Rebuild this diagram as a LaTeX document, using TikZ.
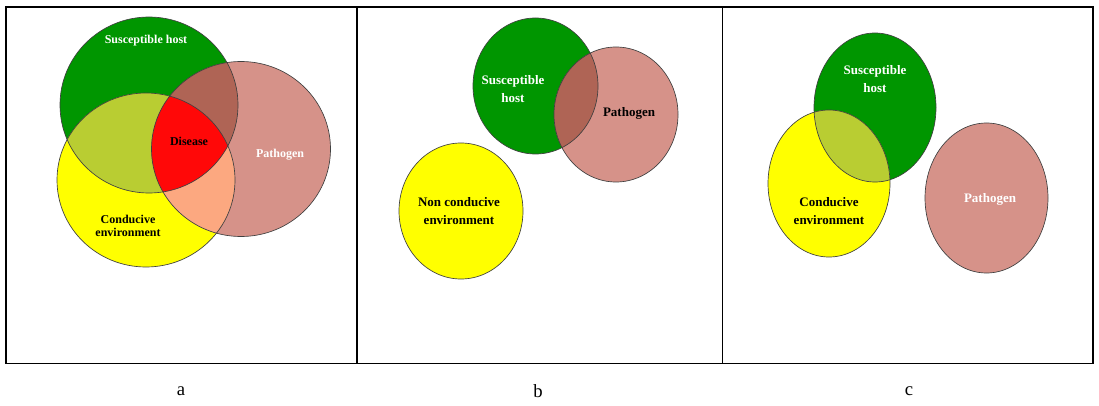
\documentclass[tikz,border=0pt]{standalone}
\usepackage{fontspec}
\setmainfont{Liberation Serif}
\usepackage{xcolor}
\usepackage{tikz}
\usetikzlibrary{positioning}

\definecolor{hostgreen}{RGB}{0,150,0}
\definecolor{pathrose}{RGB}{214,146,137}
\definecolor{envyellow}{RGB}{255,255,0}
\definecolor{hostenv}{RGB}{185,205,50}
\definecolor{hostpath}{RGB}{175,100,85}
\definecolor{envpath}{RGB}{252,168,128}
\definecolor{diseasered}{RGB}{255,8,8}

\tikzstyle{rim} = [draw=black!75,line width=0.5pt]
\tikzstyle{tag} = [font=\bfseries\fontsize{9.75}{13}\selectfont,align=center,inner sep=0pt]
\tikzstyle{smalltag} = [font=\bfseries\fontsize{9}{9.75}\selectfont,align=center,inner sep=0pt]
\tikzstyle{panel} = [line width=1.2pt]

\begin{document}
\begin{tikzpicture}[x=0.75pt,y=0.75pt]
	\useasboundingbox (0,0) rectangle (1099,-406);
	
	% Panel a: all three circles meet
	\begin{scope}
		\fill[hostgreen] (149,-105) ellipse [x radius=89, y radius=88];
		\fill[envyellow] (146,-180) ellipse [x radius=89, y radius=87];
		\fill[pathrose] (241,-149) ellipse [x radius=89.5, y radius=87.5];
		% overlaps
		\begin{scope}
			\clip (149,-105) ellipse [x radius=89, y radius=88];
			\fill[hostenv] (146,-180) ellipse [x radius=89, y radius=87];
			\fill[hostpath] (241,-149) ellipse [x radius=89.5, y radius=87.5];
		\end{scope}
		\begin{scope}
			\clip (146,-180) ellipse [x radius=89, y radius=87];
			\fill[envpath] (241,-149) ellipse [x radius=89.5, y radius=87.5];
			\clip (149,-105) ellipse [x radius=89, y radius=88];
			\fill[diseasered] (241,-149) ellipse [x radius=89.5, y radius=87.5];
		\end{scope}
		\draw[rim] (149,-105) ellipse [x radius=89, y radius=88];
		\draw[rim] (146,-180) ellipse [x radius=89, y radius=87];
		\draw[rim] (241,-149) ellipse [x radius=89.5, y radius=87.5];
		
		\node[smalltag,white] (hostA) at (146,-41) {Susceptible host};
		\node[smalltag] (diseaseA) at (189,-141) {Disease};
		\node[smalltag,white] (pathA) at (280,-155) {Pathogen};
		\node[smalltag] (envA) at (128,-226) {Conducive\\environment};
	\end{scope}
	
	% Panel b: environment apart
	\begin{scope}
		\fill[hostgreen] (535.5,-86) ellipse [x radius=62.5, y radius=68];
		\fill[pathrose] (616,-114.5) ellipse [x radius=62, y radius=67.5];
		\fill[envyellow] (461,-211) ellipse [x radius=62, y radius=68];
		\begin{scope}
			\clip (535.5,-86) ellipse [x radius=62.5, y radius=68];
			\fill[hostpath] (616,-114.5) ellipse [x radius=62, y radius=67.5];
		\end{scope}
		\draw[rim] (535.5,-86) ellipse [x radius=62.5, y radius=68];
		\draw[rim] (616,-114.5) ellipse [x radius=62, y radius=67.5];
		\draw[rim] (461,-211) ellipse [x radius=62, y radius=68];
		
		\node[tag,white] (hostB) at (513,-89) {Susceptible\\host};
		\node[tag] (pathB) at (629,-113) {Pathogen};
		\node[tag] (envB) at (459,-211) {Non conducive\\environment};
	\end{scope}
	
	% Panel c: pathogen apart
	\begin{scope}
		\fill[hostgreen] (875,-107.5) ellipse [x radius=61, y radius=74.5];
		\fill[envyellow] (829,-183.5) ellipse [x radius=61, y radius=73.5];
		\fill[pathrose] (986.5,-198) ellipse [x radius=61.5, y radius=75];
		\begin{scope}
			\clip (875,-107.5) ellipse [x radius=61, y radius=74.5];
			\fill[hostenv] (829,-183.5) ellipse [x radius=61, y radius=73.5];
		\end{scope}
		\draw[rim] (875,-107.5) ellipse [x radius=61, y radius=74.5];
		\draw[rim] (829,-183.5) ellipse [x radius=61, y radius=73.5];
		\draw[rim] (986.5,-198) ellipse [x radius=61.5, y radius=75];
		
		\node[tag,white] (hostC) at (875,-79) {Susceptible\\host};
		\node[tag] (envC) at (829,-211) {Conducive\\environment};
		\node[tag,white] (pathC) at (990,-199) {Pathogen};
	\end{scope}
	
	% Frame and captions
	\draw[panel] (6,-7) rectangle (1093,-363.5);
	\draw[panel] (357,-7) -- (357,-363.5);
	\draw[panel] (722.5,-7) -- (722.5,-363.5);
	
	\foreach \x/\t in {181/a,538/b,909/c}
	{
		\node[font=\fontsize{14}{16}\selectfont] (cap\t) at (\x,-391) {\t};
	}
	
\end{tikzpicture}
\end{document}
